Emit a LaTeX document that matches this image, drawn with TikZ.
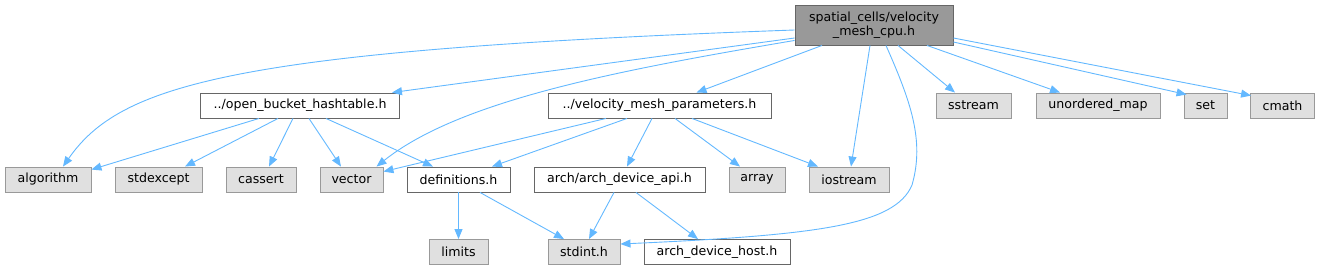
\documentclass[tikz,border=0pt]{standalone}
\usepackage{fontspec}
\setmainfont{DejaVu Sans}
\usetikzlibrary{calc,arrows.meta}
\definecolor{edgeblue}{HTML}{63B8FF}
\definecolor{boxgray}{HTML}{E0E0E0}
\definecolor{maingray}{HTML}{999999}
\definecolor{darkline}{HTML}{666666}
\begin{document}
\begin{tikzpicture}[x=1pt, y=-1pt, >={Triangle[length=10pt,width=8pt]},
    file/.style={draw=darkline, fill=white, line width=0.9pt, minimum height=25pt, inner sep=3pt,
        font=\fontsize{12.6}{14}\selectfont},
    sysfile/.style={file, draw=maingray, fill=boxgray},
    dep/.style={->, edgeblue, line width=0.9pt}]
    \useasboundingbox (0,0) rectangle (1321,271);

    % Top file
    \node[file, fill=maingray, minimum width=158pt, minimum height=40pt, align=center] (main) at (874,25)
        {spatial\_cells/velocity\\\_mesh\_cpu.h};

    % Second row
    \node[file, minimum width=199pt] (hashtbl) at (300,105.5) {../open\_bucket\_hashtable.h};
    \node[file, minimum width=223pt] (velparams) at (659.5,105.5) {../velocity\_mesh\_parameters.h};
    \node[sysfile, minimum width=75pt] (sstream) at (973.5,105.5) {sstream};
    \node[sysfile, minimum width=124pt] (umap) at (1098,105.5) {unordered\_map};
    \node[sysfile, minimum width=43pt] (set) at (1205.5,105.5) {set};
    \node[sysfile, minimum width=64pt] (cmath) at (1282.5,105.5) {cmath};

    % Third row
    \node[sysfile, minimum width=86pt] (algorithm) at (48,179.5) {algorithm};
    \node[sysfile, minimum width=87pt] (stdexcept) at (158.5,179.5) {stdexcept};
    \node[sysfile, minimum width=70pt] (cassert) at (261,179.5) {cassert};
    \node[sysfile, minimum width=63pt] (vector) at (351.5,179.5) {vector};
    \node[file, minimum width=103pt] (defs) at (458.5,179.5) {definitions.h};
    \node[file, minimum width=171pt] (archapi) at (619.5,179.5) {arch/arch\_device\_api.h};
    \node[sysfile, minimum width=56pt] (array) at (757,179.5) {array};
    \node[sysfile, minimum width=80pt] (iostream) at (849,179.5) {iostream};

    % Bottom row
    \node[sysfile, minimum width=59pt] (limits) at (458.5,252) {limits};
    \node[sysfile, minimum width=72pt] (stdint) at (584,252) {stdint.h};
    \node[file, minimum width=146pt] (archhost) at (717,252) {arch\_device\_host.h};

    % Includes of the top file
    \draw[dep] ($(main.west)+(0,5)$) .. controls (230,50) and (120,85) .. ($(algorithm.north)+(15,0)$);
    \draw[dep] ($(main.west)+(0,13)$) -- ($(hashtbl.north east)+(-8,0)$);
    \draw[dep] ($(main.south west)+(0,-5)$) .. controls (620,70) and (460,100) .. ($(vector.north)+(25,0)$);
    \draw[dep] ($(main.south)+(-52,0)$) -- ($(velparams.north)+(37,0)$);
    \draw[dep] ($(main.south)+(-4,0)$) -- ($(iostream.north)+(2,0)$);
    \draw[dep] ($(main.south)+(12,0)$) .. controls (910,100) and (925,140) .. (912,185)
        .. controls (895,225) and (820,235) .. ($(stdint.east)+(0,-8)$);
    \draw[dep] ($(main.south)+(24,0)$) -- ($(sstream.north)+(-18.5,0)$);
    \draw[dep] ($(main.south)+(53,0)$) -- ($(umap.north)+(-38,0)$);
    \draw[dep] ($(main.east)+(0,17)$) -- ($(set.north west)+(3,2)$);
    \draw[dep] ($(main.east)+(0,13)$) -- ($(cmath.north west)+(1,3)$);

    % Includes of the hashtable
    \draw[dep] ($(hashtbl.south)+(-41,0)$) -- ($(algorithm.north east)+(0,3)$);
    \draw[dep] ($(hashtbl.south)+(-22,0)$) -- ($(stdexcept.north)+(26.5,0)$);
    \draw[dep] ($(hashtbl.south)+(-7,0)$) -- ($(cassert.north)+(8,0)$);
    \draw[dep] ($(hashtbl.south)+(9,0)$) -- ($(vector.north)+(-10.5,0)$);
    \draw[dep] ($(hashtbl.south)+(26,0)$) -- ($(defs.north)+(-25.5,0)$);

    % Includes of the mesh parameters
    \draw[dep] ($(velparams.south)+(-53.5,0)$) -- ($(vector.north east)+(0,5)$);
    \draw[dep] ($(velparams.south)+(-32.5,0)$) -- ($(defs.north)+(33.5,0)$);
    \draw[dep] ($(velparams.south)+(-7.5,0)$) -- ($(archapi.north)+(7.5,0)$);
    \draw[dep] ($(velparams.south)+(15.5,0)$) -- ($(array.north)+(-17,0)$);
    \draw[dep] ($(velparams.south)+(32.5,0)$) -- ($(iostream.north)+(-31,0)$);

    % Lower includes
    \draw[dep] (defs.south) -- (limits.north);
    \draw[dep] ($(defs.south)+(21.5,0)$) -- ($(stdint.north)+(-20,0)$);
    \draw[dep] ($(archapi.south)+(-5.5,0)$) -- ($(stdint.north)+(5,0)$);
    \draw[dep] ($(archapi.south)+(16.5,0)$) -- ($(archhost.north)+(-19,0)$);
\end{tikzpicture}
\end{document}
